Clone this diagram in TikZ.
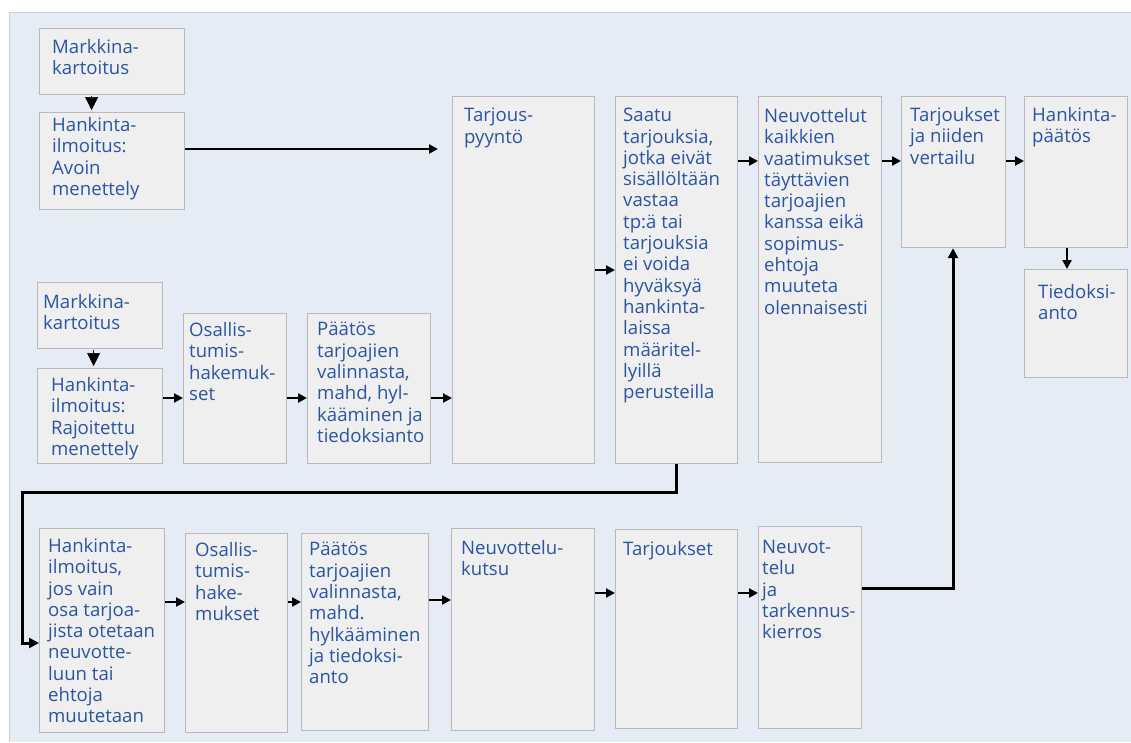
\documentclass[tikz,border=0pt]{standalone}
\usepackage{fontspec}
\setmainfont{Open Sans}
\usetikzlibrary{arrows.meta,calc}

\definecolor{panelbg}{HTML}{E5ECF6}
\definecolor{panelrule}{HTML}{C9CED6}
\definecolor{boxfill}{HTML}{EFEFEF}
\definecolor{boxrule}{HTML}{B9B9B9}
\definecolor{ink}{HTML}{2A55A3}

\tikzset{
  stage/.style={draw=boxrule, fill=boxfill, line width=1.2pt, inner sep=0pt,
    anchor=north west},
  % text is placed by the baseline of its first line
  words/.style={anchor=north west, yshift=14.91pt, align=left, inner sep=0pt,
    text=ink, font=\fontsize{18.6}{21.3}\selectfont,
    execute at begin node=\strut},
  flow/.style={line width=2.4pt, -{Triangle[length=9pt,width=9pt]}},
  loopline/.style={line width=3pt, -{Triangle[length=10pt,width=10pt]}, line join=miter},
  drop/.style={line width=0.6pt, -{Triangle[length=13pt,width=13pt]}},
}

% box with top-left corner (l,t) and bottom-right corner (r,b)
\newcommand{\stagebox}[5]{%
  \node[stage, minimum width={#4-#2}, minimum height={#5-#3}] (#1) at (#2,#3) {};}

\begin{document}
\begin{tikzpicture}[x=1pt, y=-1pt]
  \useasboundingbox (0,0) rectangle (1131,742);
  % backdrop panel
  \fill[white] (0,0) rectangle (1131,742);
  \fill[panelbg] (9,12) rectangle (1131,742);
  \draw[panelrule, line width=1pt] (9,742) -- (9,12) -- (1131,12);

  % boxes
  \stagebox{m1}{39}{28}{184}{94}
  \stagebox{h1}{39}{112}{184}{209}
  \stagebox{tp}{452}{96}{594}{463}
  \stagebox{sa}{615}{96}{737}{463}
  \stagebox{ne}{758}{96}{881}{462}
  \stagebox{tv}{901}{96}{1005}{247}
  \stagebox{hp}{1024}{96}{1127}{247}
  \stagebox{ti}{1024}{269}{1127}{377}
  \stagebox{m2}{37}{282}{162}{348}
  \stagebox{h2}{37}{368}{162}{463}
  \stagebox{os1}{183}{313}{286}{463}
  \stagebox{pa1}{307}{313}{430}{463}
  \stagebox{h3}{39}{528}{164}{732}
  \stagebox{os2}{185}{533}{287}{732}
  \stagebox{pa2}{301}{533}{428}{730}
  \stagebox{nk}{451}{528}{594}{730}
  \stagebox{ta}{615}{529}{737}{728}
  \stagebox{nt}{758}{526}{861}{728}

  % box texts
  \node[words] (m1t) at ($(m1.north west)+(13,26)$) {Markkina-\\kartoitus};
  \node[words] (h1t) at ($(h1.north west)+(13,20)$) {Hankinta-\\ilmoitus:\\Avoin\\menettely};
  \node[words] (tpt) at ($(tp.north west)+(12,27)$) {Tarjous-\\pyyntö};
  \node[words] (sat) at ($(sa.north west)+(8,27)$) {Saatu\\tarjouksia,\\jotka eivät\\sisällöltään\\vastaa\\tp:ä tai\\tarjouksia\\ei voida\\hyväksyä\\hankinta-\\laissa\\määritel-\\lyillä\\perusteilla};
  \node[words] (net) at ($(ne.north west)+(6,27)$) {Neuvottelut\\kaikkien\\vaatimukset\\täyttävien\\tarjoajien\\kanssa eikä\\sopimus-\\ehtoja\\muuteta\\olennaisesti};
  \node[words] (tvt) at ($(tv.north west)+(9,26)$) {Tarjoukset\\ja niiden\\vertailu};
  \node[words] (hpt) at ($(hp.north west)+(8,26)$) {Hankinta-\\päätös};
  \node[words] (tit) at ($(ti.north west)+(14,30)$) {Tiedoksi-\\anto};
  \node[words] (m2t) at ($(m2.north west)+(6,27)$) {Markkina-\\kartoitus};
  \node[words] (h2t) at ($(h2.north west)+(14,24)$) {Hankinta-\\ilmoitus:\\Rajoitettu\\menettely};
  \node[words] (os1t) at ($(os1.north west)+(6,24)$) {Osallis-\\tumis-\\hakemuk-\\set};
  \node[words] (pa1t) at ($(pa1.north west)+(10,24)$) {Päätös\\tarjoajien\\valinnasta,\\mahd, hyl-\\kääminen ja\\tiedoksianto};
  \node[words] (h3t) at ($(h3.north west)+(9,25)$) {Hankinta-\\ilmoitus,\\jos vain\\osa tarjoa-\\jista otetaan\\neuvotte-\\luun tai\\ehtoja\\muutetaan};
  \node[words] (os2t) at ($(os2.north west)+(10,24)$) {Osallis-\\tumis-\\hake-\\mukset};
  \node[words] (pa2t) at ($(pa2.north west)+(8,24)$) {Päätös\\tarjoajien\\valinnasta,\\mahd.\\hylkääminen\\ja tiedoksi-\\anto};
  \node[words] (nkt) at ($(nk.north west)+(10,27)$) {Neuvottelu-\\kutsu};
  \node[words] (tat) at ($(ta.north west)+(8,26)$) {Tarjoukset};
  \node[words] (ntt) at ($(nt.north west)+(4,29)$) {Neuvot-\\telu\\ja\\tarkennus-\\kierros};

  % connector levels
  \coordinate (r149) at (0,149);
  \coordinate (r161) at (0,161);
  \coordinate (r270) at (0,270);
  \coordinate (r398) at (0,398);
  \coordinate (r492) at (0,492);
  \coordinate (r588) at (0,588);
  \coordinate (r593) at (0,593);
  \coordinate (r600) at (0,600);
  \coordinate (r602) at (0,602);
  \coordinate (r643) at (0,643);
  \coordinate (c22) at (22,0);
  \coordinate (c676) at (676,0);
  \coordinate (c953) at (953,0);
  \coordinate (c1067) at (1067,0);

  % market survey to notice
  \draw[drop, shorten >=2pt, shorten <=1pt] ([xshift=-20.5pt]m1.south) -- ([xshift=-20.5pt]h1.north);
  \draw[drop, shorten >=2pt, shorten <=1pt] ([xshift=-6.5pt]m2.south) -- ([xshift=-6.5pt]h2.north);

  % open procedure
  \draw[flow, shorten >=14pt] (h1.east |- r149) -- (tp.west |- r149);

  % restricted procedure
  \draw[flow] (h2.east |- r398) -- (os1.west |- r398);
  \draw[flow] (os1.east |- r398) -- (pa1.west |- r398);
  \draw[flow] (pa1.east |- r398) -- (tp.west |- r398);

  % main chain
  \draw[flow] (tp.east |- r270) -- (sa.west |- r270);
  \draw[flow] (sa.east |- r161) -- (ne.west |- r161);
  \draw[flow] (ne.east |- r161) -- (tv.west |- r161);
  \draw[flow] (tv.east |- r161) -- (hp.west |- r161);
  \draw[flow] (hp.south -| c1067) -- (ti.north -| c1067);

  % return to the negotiated procedure
  \draw[loopline] (sa.south -| c676) -- (c676 |- r492) -- (c22 |- r492)
    -- (c22 |- r643) -- (h3.west |- r643);

  % negotiated procedure
  \draw[flow] (h3.east |- r602) -- (os2.west |- r602);
  \draw[flow] (os2.east |- r602) -- (pa2.west |- r602);
  \draw[flow] (pa2.east |- r600) -- (nk.west |- r600);
  \draw[flow] (nk.east |- r593) -- (ta.west |- r593);
  \draw[flow] (ta.east |- r593) -- (nt.west |- r593);
  \draw[loopline] (nt.east |- r588) -- (c953 |- r588) -- (tv.south -| c953);
\end{tikzpicture}
\end{document}
